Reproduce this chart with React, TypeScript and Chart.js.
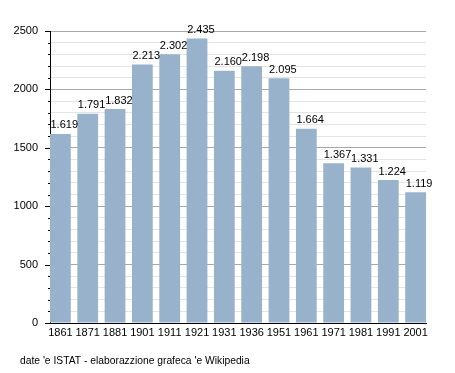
import React, { useEffect, useRef } from "react";
import { Chart, registerables } from "chart.js";

Chart.register(...registerables);

const years = ["1861", "1871", "1881", "1901", "1911", "1921", "1931", "1936", "1951", "1961", "1971", "1981", "1991", "2001"];
const population = [1619, 1791, 1832, 2213, 2302, 2435, 2160, 2198, 2095, 1664, 1367, 1331, 1224, 1119];
const yTicks = [0, 500, 1000, 1500, 2000, 2500];
const sourceNote = "date 'e ISTAT - elaborazzione grafeca 'e Wikipedia";

const FONT = "'Liberation Sans', Arial, sans-serif";
const BAR_FRACTION = 0.76;

function fmt(v: number): string {
  return String(v).replace(/\B(?=(\d{3})+(?!\d))/g, ".");
}

const extras = {
  id: "extras",
  afterDraw(chart: any) {
    const ctx = chart.ctx;
    const y = chart.scales.y;
    const area = chart.chartArea;
    ctx.save();
    // tick marks on y axis
    ctx.strokeStyle = "#000";
    ctx.lineWidth = 1;
    for (let v = 0; v <= 2500; v += 100) {
      const py = Math.round(y.getPixelForValue(v)) + 0.5;
      const len = v % 500 === 0 ? 5 : 2;
      ctx.beginPath();
      ctx.moveTo(area.left - len, py);
      ctx.lineTo(area.left, py);
      ctx.stroke();
    }
    // value labels
    ctx.fillStyle = "#000";
    ctx.font = `11px ${FONT}`;
    ctx.textAlign = "left";
    ctx.textBaseline = "bottom";
    const meta = chart.getDatasetMeta(0);
    meta.data.forEach((bar: any, i: number) => {
      ctx.fillText(fmt(population[i]), bar.x - bar.width / 2 + 0.5, bar.y - 3);
    });
    // source note
    ctx.font = `10.3px ${FONT}`;
    ctx.textAlign = "left";
    ctx.textBaseline = "middle";
    ctx.fillText(sourceNote, 20, 361);
    ctx.restore();
  },
};

export default function App() {
  const ref = useRef<HTMLCanvasElement>(null);
  useEffect(() => {
    document.body.style.margin = "0";
    const chart = new Chart(ref.current!, {
      type: "bar",
      data: {
        datasets: [
          {
            data: population.map((v, i) => ({ x: i, y: v })),
            backgroundColor: "#98b2cc",
            borderWidth: 0,
            barPercentage: BAR_FRACTION,
            categoryPercentage: 1,
          },
        ],
      },
      options: {
        animation: false,
        responsive: false,
        layout: { padding: { top: 31, right: 29, bottom: 30, left: 0 } },
        plugins: { legend: { display: false }, tooltip: { enabled: false } },
        scales: {
          x: {
            type: "linear",
            min: -BAR_FRACTION / 2,
            max: years.length - 1 + BAR_FRACTION / 2,
            offset: false,
            grid: { display: false, drawTicks: false },
            border: { display: true, color: "#000", width: 1 },
            afterBuildTicks: (s: any) => {
              s.ticks = years.map((_, i) => ({ value: i }));
            },
            afterFit: (s: any) => {
              s.height = 20;
            },
            ticks: {
              autoSkip: false,
              maxRotation: 0,
              padding: 3,
              color: "#000",
              font: { family: FONT, size: 11 },
              callback: (v: any) => years[v] ?? "",
            },
          },
          y: {
            min: 0,
            max: 2500,
            afterBuildTicks: (s: any) => {
              const t = [];
              for (let v = 0; v <= 2500; v += 100) t.push({ value: v });
              s.ticks = t;
            },
            afterFit: (s: any) => {
              s.width = 50;
            },
            grid: {
              drawTicks: false,
              color: (c: any) => (c.tick && c.tick.value % 500 === 0 ? "#a8a8a8" : "#e4e4e4"),
            },
            border: { display: true, color: "#000", width: 1 },
            ticks: {
              autoSkip: false,
              padding: 12,
              color: "#000",
              font: { family: FONT, size: 11 },
              callback: (v: any) => (yTicks.includes(v) ? String(v) : ""),
            },
          },
        },
      },
      plugins: [extras],
    } as any);
    return () => chart.destroy();
  }, []);
  return (
    <div style={{ position: "absolute", left: 0, top: 0, width: 455, height: 373 }}>
      <canvas ref={ref} width={455} height={373} />
    </div>
  );
}
